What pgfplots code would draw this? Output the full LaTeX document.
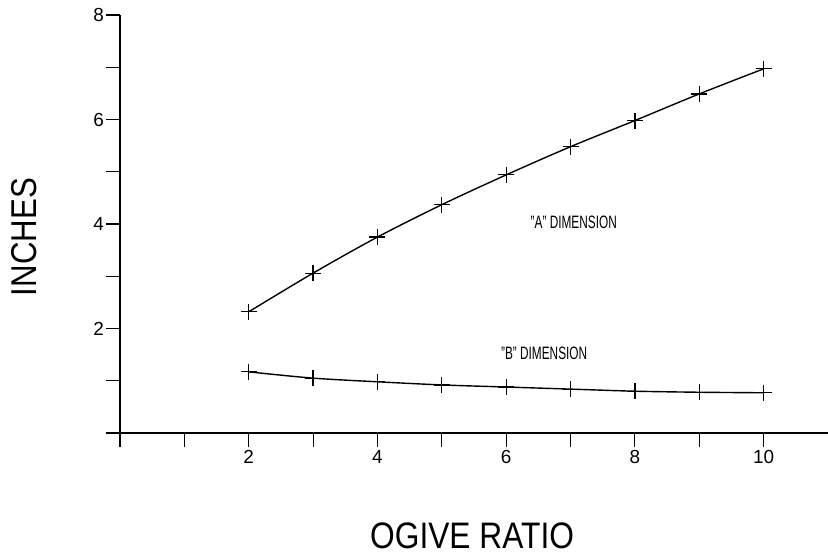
\documentclass[border=0pt]{standalone}
\usepackage{pgfplots}
\pgfplotsset{compat=1.18}
\usepackage{fontspec}
\setmainfont{Liberation Sans}
\begin{document}
\begin{tikzpicture}
\path[use as bounding box] (0,0) rectangle (828bp,556bp);
\begin{axis}[
  at={(120bp,123bp)}, anchor=south west,
  scale only axis, width=708bp, height=418bp,
  xmin=0, xmax=11, ymin=0, ymax=8,
  axis x line=bottom, axis y line=left,
  axis line style={-, line width=1.1pt},
  every tick/.style={black, line width=1.1pt},
  tick align=outside, major tick length=14bp,
  xtick={0,...,10}, xticklabels={,,2,,4,,6,,8,,10},
  ytick={0,...,8}, yticklabels={,,2,,4,,6,,8},
  /pgf/number format/assume math mode=true,
  tick label style={font=\fontsize{19}{19}\selectfont},
  xticklabel style={inner sep=3pt},
  yticklabel style={inner sep=2pt},
  clip=false,
]
\addplot[black, line width=1.4pt, smooth, mark=+, mark size=8bp, mark options={line width=1.2pt}]
  coordinates {(2,2.32) (3,3.06) (4,3.75) (5,4.37) (6,4.94) (7,5.48) (8,5.98) (9,6.49) (10,6.97)};
\addplot[black, line width=1.4pt, smooth, mark=+, mark size=8bp, mark options={line width=1.2pt}]
  coordinates {(2,1.17) (3,1.05) (4,0.98) (5,0.92) (6,0.88) (7,0.84) (8,0.80) (9,0.78) (10,0.77)};
\node[font=\fontsize{18}{18}\selectfont] at (axis cs:7.05,4.04) {\scalebox{0.66}[1]{"A" DIMENSION}};
\node[font=\fontsize{18}{18}\selectfont] at (axis cs:6.59,1.53) {\scalebox{0.66}[1]{"B" DIMENSION}};
\node[font=\fontsize{37}{37}\selectfont] at (axis cs:5.47,-1.97) {\scalebox{0.86}[1]{OGIVE RATIO}};
\node[font=\fontsize{36}{36}\selectfont, rotate=90] at (axis cs:-1.49,3.75) {\scalebox{0.87}[1]{INCHES}};
\end{axis}
\end{tikzpicture}
\end{document}
